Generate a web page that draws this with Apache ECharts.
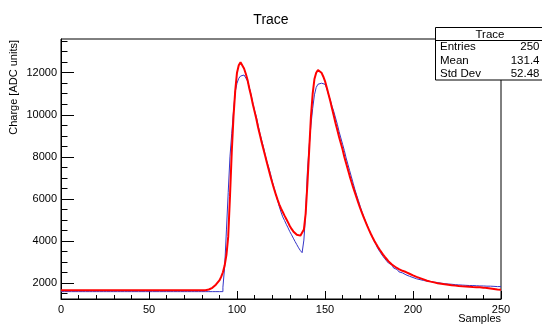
<!DOCTYPE html>
<html><head><meta charset="utf-8">
<script src="https://cdn.jsdelivr.net/npm/echarts@6/dist/echarts.min.js"></script>
<style>html,body{margin:0;padding:0;background:#fff}#c{width:542px;height:324px}</style>
</head><body><div id="c"></div>
<script>
const FONT = '"Liberation Sans", Arial, Helvetica, sans-serif';

// ---- data ----
const titleText = 'Trace';
const xName = 'Samples';
const yName = 'Charge [ADC units]';
const statsTitle = 'Trace';
const statsLabels = ['Entries', 'Mean', 'Std Dev'];
const statsValues = ['250', '131.4', '52.48'];

const yMajorTicks = [2000, 4000, 6000, 8000, 10000, 12000];
const yMinorTicks = [1500, 2500, 3000, 3500, 4500, 5000, 5500, 6500, 7000, 7500,
  8500, 9000, 9500, 10500, 11000, 11500, 12500, 13000, 13500];

// histogram contents, one per bin (bins 0..249)
const histValues = [
  1600,1600,1600,1600,1600,1600,1600,1600,1600,1600,
  1600,1600,1600,1600,1600,1600,1600,1600,1600,1600,
  1600,1600,1600,1600,1600,1600,1600,1600,1600,1600,
  1600,1600,1600,1600,1600,1600,1600,1600,1600,1600,
  1600,1600,1600,1600,1600,1600,1600,1600,1600,1600,
  1600,1600,1600,1600,1600,1600,1600,1600,1600,1600,
  1600,1600,1600,1600,1600,1600,1600,1600,1600,1600,
  1600,1600,1600,1600,1600,1600,1600,1600,1600,1600,
  1600,1600,1600,1600,1600,1600,1600,1600,1600,1600,
  1600,1600,1810,2790,4530,6300,8000,9100,10150,11100,
  11500,11730,11840,11890,11850,11750,11600,11300,10950,10550,
  10200,9900,9500,9120,8800,8480,8100,7770,7500,7200,
  6850,6550,6250,5950,5650,5380,5150,4980,4800,4630,
  4450,4300,4140,3980,3830,3680,3550,3450,4050,5300,
  7300,8500,9500,10300,10950,11300,11450,11500,11500,11450,
  11400,11250,10950,10700,10400,10150,9850,9550,9200,8900,
  8600,8300,7950,7650,7350,7050,6750,6450,6180,5920,
  5650,5400,5160,4950,4740,4540,4350,4160,3990,3830,
  3650,3520,3390,3270,3160,3060,2960,2870,2790,2720,
  2650,2590,2540,2490,2440,2400,2360,2330,2300,2270,
  2240,2210,2190,2170,2150,2130,2110,2100,2090,2080,
  2070,2050,2040,2030,2020,2000,1990,1980,1970,1960,
  1960,1950,1940,1930,1930,1920,1910,1910,1900,1900,
  1900,1890,1890,1890,1880,1880,1880,1870,1870,1870,
  1860,1860,1880,1860,1850,1850,1850,1840,1840,1840
];

// fit curve, one value per integer sample 0..250
const fitValues = [
  1660,1660,1660,1660,1660,1660,1660,1660,1660,1660,
  1660,1660,1660,1660,1660,1660,1660,1660,1660,1660,
  1660,1660,1660,1660,1660,1660,1660,1660,1660,1660,
  1660,1660,1660,1660,1660,1660,1660,1660,1660,1660,
  1660,1660,1660,1660,1660,1660,1660,1660,1660,1660,
  1660,1660,1660,1660,1660,1660,1660,1660,1660,1660,
  1660,1660,1660,1660,1660,1660,1660,1660,1660,1660,
  1660,1660,1660,1660,1660,1660,1660,1660,1660,1660,
  1660,1660,1665,1680,1700,1730,1780,1850,1930,2020,
  2130,2300,2520,2850,3350,4200,6100,8200,9900,11150,
  12000,12350,12490,12420,12200,11950,11650,11250,10900,10500,
  10150,9800,9400,9050,8700,8370,8050,7720,7400,7080,
  6780,6500,6230,5980,5750,5550,5380,5210,5050,4890,
  4720,4580,4460,4370,4300,4260,4260,4330,4550,5300,
  6700,8300,9900,11000,11700,12000,12130,12130,12000,11820,
  11600,11300,10980,10650,10300,9950,9600,9280,8950,8650,
  8350,8000,7700,7400,7100,6820,6550,6300,6050,5800,
  5560,5340,5130,4920,4720,4530,4350,4180,4020,3870,
  3730,3600,3480,3360,3250,3150,3050,2960,2890,2830,
  2770,2720,2670,2630,2590,2560,2530,2490,2450,2410,
  2370,2340,2300,2270,2240,2210,2180,2150,2120,2100,
  2076,2060,2040,2020,2000,1990,1975,1960,1950,1940,
  1930,1920,1905,1895,1885,1872,1865,1858,1850,1845,
  1840,1835,1830,1825,1820,1815,1812,1810,1805,1800,
  1790,1780,1770,1760,1750,1740,1730,1720,1705,1695,
  1685
];

// ---- build ----
const histData = histValues.map((v, i) => [i, v]);
histData.push([histValues.length, histValues[histValues.length - 1]]);
const fitData = fitValues.map((v, i) => [i, v]);

const chart = echarts.init(document.getElementById('c'), null, {renderer: 'canvas'});
const axisColor = '#000';
const plain = v => String(v);
chart.setOption({
  animation: false,
  backgroundColor: '#fff',
  textStyle: {fontFamily: FONT},
  title: {
    text: titleText, left: 'center', top: 8,
    textStyle: {fontFamily: FONT, fontSize: 14, fontWeight: 'normal', color: '#000'}
  },
  grid: {left: 61, right: 41, top: 39, bottom: 25, show: true, borderColor: axisColor, borderWidth: 1},
  xAxis: {
    type: 'value', min: 0, max: 250, interval: 50,
    axisLine: {show: true, lineStyle: {color: axisColor}},
    axisTick: {show: true, inside: true, length: 8, lineStyle: {color: axisColor}},
    minorTick: {show: true, splitNumber: 5, length: 4, lineStyle: {color: axisColor}},
    axisLabel: {fontFamily: FONT, fontSize: 11, color: '#000', margin: 5, formatter: plain},
    splitLine: {show: false}
  },
  yAxis: [{
    type: 'value', min: 1250, max: 13600,
    axisLine: {show: true, lineStyle: {color: axisColor}},
    axisTick: {show: true, inside: true, length: 13, customValues: yMajorTicks, lineStyle: {color: axisColor}},
    axisLabel: {fontFamily: FONT, fontSize: 11, color: '#000', margin: 4, customValues: yMajorTicks, formatter: plain},
    splitLine: {show: false}
  }, {
    type: 'value', min: 1250, max: 13600, position: 'left',
    axisLine: {show: false},
    axisTick: {show: true, inside: true, length: 6.5, customValues: yMinorTicks, lineStyle: {color: axisColor}},
    axisLabel: {show: false},
    splitLine: {show: false}
  }],
  series: [{
    type: 'line', data: histData, step: 'end', showSymbol: false, symbol: 'none',
    lineStyle: {color: '#3535c8', width: 1}, itemStyle: {color: '#3535c8'}, z: 2
  }, {
    type: 'line', data: fitData, showSymbol: false, symbol: 'none', smooth: false,
    lineStyle: {color: '#ff0000', width: 2}, itemStyle: {color: '#ff0000'}, z: 3
  }],
  graphic: [
    {type: 'text', x: 14, y: 40, rotation: Math.PI / 2, z: 100,
      style: {text: yName, fontFamily: FONT, fontSize: 11, fill: '#000', textAlign: 'right', align: 'right', textVerticalAlign: 'middle', verticalAlign: 'middle'}},
    {type: 'text', x: 501, y: 319, z: 100,
      style: {text: xName, fontFamily: FONT, fontSize: 11, fill: '#000', textAlign: 'right', align: 'right', textVerticalAlign: 'middle', verticalAlign: 'middle'}},
    {type: 'rect', z: 100, shape: {x: 435.5, y: 27.5, width: 120, height: 52.5},
      style: {fill: '#fff', stroke: '#000', lineWidth: 1}},
    {type: 'line', z: 101, shape: {x1: 435.5, y1: 40.5, x2: 542, y2: 40.5},
      style: {stroke: '#000', lineWidth: 1}},
    {type: 'text', x: 490, y: 34.5, z: 102,
      style: {text: statsTitle, fontFamily: FONT, fontSize: 11.5, fill: '#000', textAlign: 'center', align: 'center', textVerticalAlign: 'middle', verticalAlign: 'middle'}}
  ].concat(statsLabels.map((t, i) => ({
    type: 'text', x: 440, y: 47.3 + i * 13.2, z: 102,
    style: {text: t, fontFamily: FONT, fontSize: 11.5, fill: '#000', textAlign: 'left', align: 'left', textVerticalAlign: 'middle', verticalAlign: 'middle'}
  }))).concat(statsValues.map((t, i) => ({
    type: 'text', x: 539.5, y: 47.3 + i * 13.2, z: 102,
    style: {text: t, fontFamily: FONT, fontSize: 11.5, fill: '#000', textAlign: 'right', align: 'right', textVerticalAlign: 'middle', verticalAlign: 'middle'}
  })))
});
</script>
</body></html>
